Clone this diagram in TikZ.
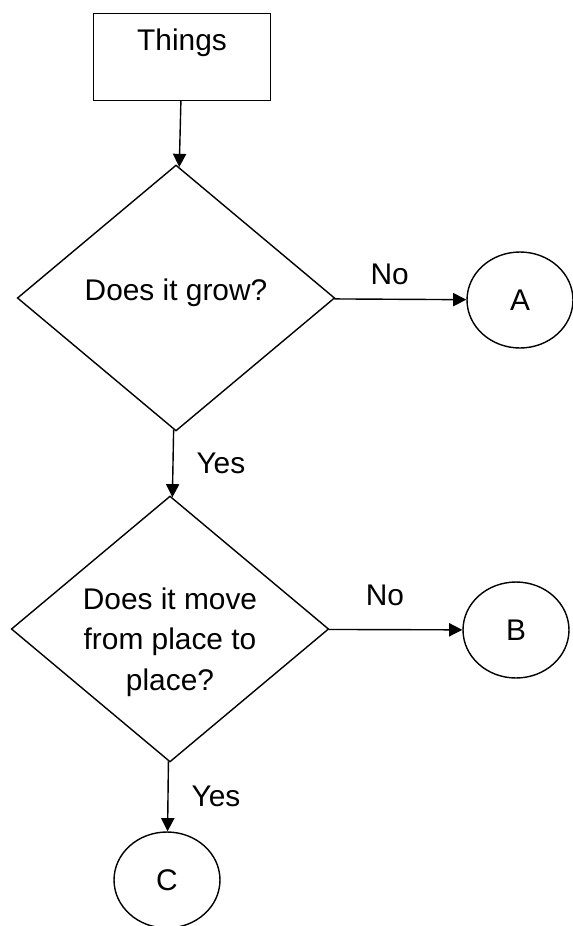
\documentclass[tikz,border=0pt]{standalone}
\usepackage{fontspec}
\setmainfont{Liberation Sans}
\usepackage{tikz}
\usetikzlibrary{shapes.geometric,arrows.meta,positioning}

\begin{document}
\begin{tikzpicture}[x=0.02cm, y=-0.02cm, line width=0.8pt,
  font=\fontsize{17}{23}\selectfont, >={Triangle[length=7.5pt,width=7.5pt]}]
\tikzstyle{box}=[rectangle, draw, minimum width=3.54cm, minimum height=1.74cm]
\tikzstyle{dec}=[diamond, draw, minimum width=6.35cm, minimum height=5.32cm, inner sep=0pt]
\tikzstyle{con}=[ellipse, draw, minimum width=2.12cm, minimum height=1.92cm]
\tikzstyle{lbl}=[inner sep = 2pt]
\useasboundingbox (0,0) rectangle (572,926);
\node[box, label={[yshift=0.29cm]center:Things}] (T) at (182,57) {};
\node[dec, label={[yshift=0.1cm]center:Does it grow?}] (Q1) at (176,298) {};
\node[dec, label={[align=center, yshift=-0.26cm]center:Does it move\\from place to\\place?}] (Q2) at (170,629) {};
\node[con] (A) at (520,300) {A};
\node[con] (B) at (516,630) {B};
\node[con] (C) at (167,880) {C};
\draw[->] (T) -- (Q1);
\foreach \i/\j/\k in {Q1/A/6pt, Q2/B/11pt}{\draw[->] (\i) -- node[lbl, pos=.42, above=\k]{No} (\j);}
\foreach \i/\j in {Q1/Q2, Q2/C}{\draw[->] (\i) -- node[lbl, midway, right=11pt]{Yes} (\j);}
\end{tikzpicture}
\end{document}
